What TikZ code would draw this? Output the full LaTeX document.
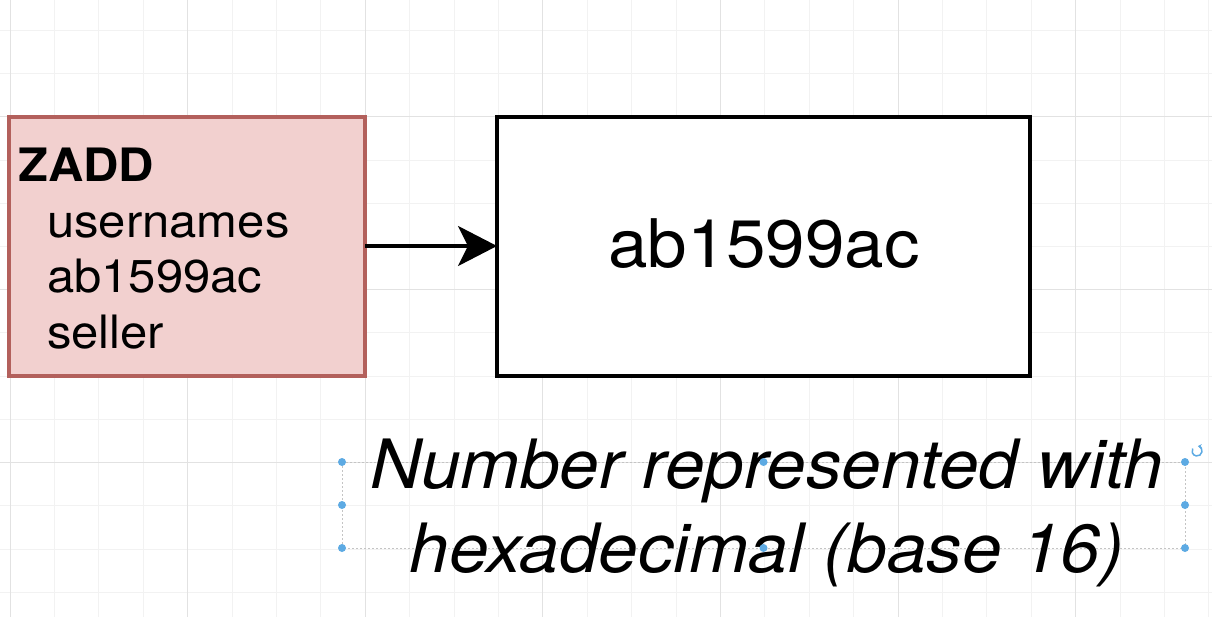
\documentclass[tikz,border=0pt]{standalone}
\usepackage{fontspec}
\setmainfont{TeX Gyre Heros}
\usetikzlibrary{arrows.meta}
\definecolor{pinkfill}{HTML}{F2D0CF}
\definecolor{pinkline}{HTML}{B3605C}
\definecolor{gridminor}{HTML}{F2F2F2}
\definecolor{gridmajor}{HTML}{E2E2E2}
\definecolor{handle}{HTML}{5DAAE3}
\definecolor{selline}{HTML}{C4C4C4}
\tikzset{
  boxbase/.style={rectangle, inner sep=0pt, outer sep=0pt, line width=3.3pt, anchor=north west},
  pinkbox/.style={boxbase, draw=pinkline, fill=pinkfill},
  whitebox/.style={boxbase, draw=black, fill=white},
  listtext/.style={inner sep=0pt, anchor=base west, xscale=1.065, transform shape, font=\fontsize{46}{55}\selectfont},
  bigtext/.style={inner sep=0pt, anchor=base, xscale=1.06, transform shape, font=\fontsize{67}{80}\selectfont},
  notetext/.style={inner sep=0pt, anchor=base, align=center, xscale=1.045, transform shape, font=\fontsize{68}{84}\selectfont\itshape},
  conn/.style={line width=3.4pt, -{Stealth[length=39pt, width=40pt, inset=10pt]}},
  selhandle/.style={circle, fill=handle, inner sep=0pt, minimum size=8pt},
}
\begin{document}
\begin{tikzpicture}[x=1pt, y=-1pt]
\fill[white] (0,0) rectangle (1212,617);
\useasboundingbox (0,0) rectangle (1212,617);
% grid
\foreach \i in {0,...,27} {\draw[gridminor, line width=1pt] (10+44.4*\i,0) -- (10+44.4*\i,617);}
\foreach \j in {0,...,13} {\draw[gridminor, line width=1pt] (0,30.6+43.2*\j) -- (1212,30.6+43.2*\j);}
\foreach \i in {0,...,6} {\draw[gridmajor, line width=1pt] (10+177.6*\i,0) -- (10+177.6*\i,617);}
\foreach \j in {0,...,2} {\draw[gridmajor, line width=1pt] (0,117+172.8*\j) -- (1212,117+172.8*\j);}
% boxes
\node[pinkbox, minimum width=356pt, minimum height=259pt] (zadd) at (9,117) {};
\node[whitebox, minimum width=533pt, minimum height=259pt] (hex) at (497,117) {};
% pink box text
\node[listtext] (cmd) at (18,181.7) {\textbf{ZADD}};
\node[listtext] (key) at (47,237.2) {usernames};
\node[listtext] (member) at (47,292.7) {ab1599ac};
\node[listtext] (score) at (47,348.2) {seller};
% big text
\node[bigtext] (value) at (764,268) {ab1599ac};
% connector
\draw[conn] (zadd.east |- 0,246) -- (hex.west |- 0,246);
% note with selection
\coordinate (selnw) at (342,462);
\coordinate (selse) at (1185,548);
\draw[selline, line width=1pt, dash pattern=on 2pt off 2pt] (selnw) rectangle (selse);
\node[notetext] (note) at (767,572) {Number represented with\\hexadecimal (base 16)};
\foreach \p in {(342,462),(763.5,462),(1185,462),(342,505),(1185,505),(342,548),(763.5,548),(1185,548)}
  {\node[selhandle] at \p {};}
\coordinate (rot) at (1197,451);
\draw[handle, line width=1.5pt, {Stealth[length=3.5pt,width=5pt]}-] ([shift={(80:5pt)}]rot) arc[start angle=80, end angle=-210, radius=5pt];
\end{tikzpicture}
\end{document}
